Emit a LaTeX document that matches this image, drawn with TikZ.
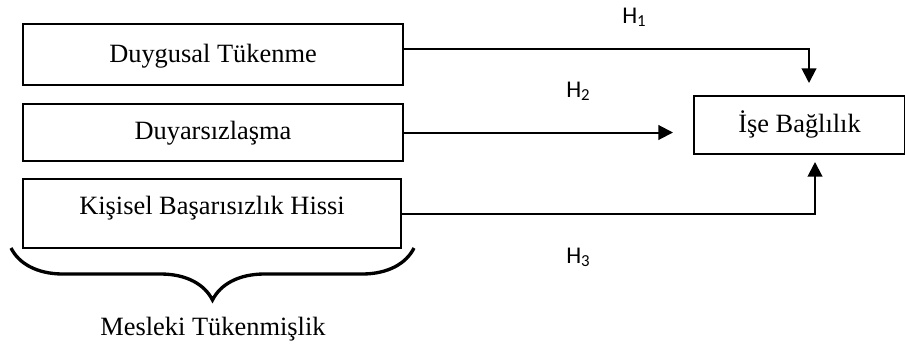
\documentclass[tikz,border=0pt]{standalone}
\usepackage{fontspec}
\setmainfont{Liberation Serif}
\newfontfamily\hfont{Carlito}
\usetikzlibrary{arrows.meta,decorations.pathreplacing}

\begin{document}
\begin{tikzpicture}[x=0.75pt,y=-0.75pt,
    kutu/.style={draw, line width=1.5pt, inner sep=0pt, anchor=north west,
      font=\fontsize{19.8}{24}\selectfont},
    ok/.style={line width=1.5pt, -{Triangle[length=11pt,width=11pt]}},
    hlab/.style={anchor=base west, inner sep=0pt, font=\hfont\fontsize{18}{22}\selectfont}]
    \useasboundingbox (0,0) rectangle (905,343);
    % boxes
    \node[kutu, minimum width=285pt, text height=28.5pt, text depth=17.25pt] (dt) at (22,23) {Duygusal Tükenme};
    \node[kutu, minimum width=285pt, text height=26.25pt, text depth=16.5pt] (dy) at (22,103) {Duyarsızlaşma};
    \node[kutu, minimum width=283.5pt, text height=26.25pt, text depth=25.5pt] (kb) at (22,178) {Kişisel Başarısızlık Hissi};
    \node[kutu, minimum width=158.25pt, text height=27pt, text depth=16.5pt] (ib) at (693,95) {İşe Bağlılık};
    % arrow ends
    \coordinate (t1) at (809,83);
    \coordinate (t2) at (673,130);
    \coordinate (t3) at (815,162);
    % arrows
    \draw[ok] ([yshift=4pt]dt.east) -| (t1);
    \draw[ok] (dy.east) -- (dy.east -| t2);
    \draw[ok] (kb.east) -| (t3);
    % labels
    \node[hlab] (h1) at (622,23) {H\textsubscript{1}};
    \node[hlab] (h2) at (566,97) {H\textsubscript{2}};
    \node[hlab] (h3) at (566,263) {H\textsubscript{3}};
    % brace
    \draw[line width=2.5pt, decorate, decoration={brace, mirror, amplitude=39pt}] (11,248) -- (414,248);
    \node[anchor=base, inner sep=0pt, font=\fontsize{19.8}{24}\selectfont] (mt) at (213,335) {Mesleki Tükenmişlik};
\end{tikzpicture}
\end{document}
